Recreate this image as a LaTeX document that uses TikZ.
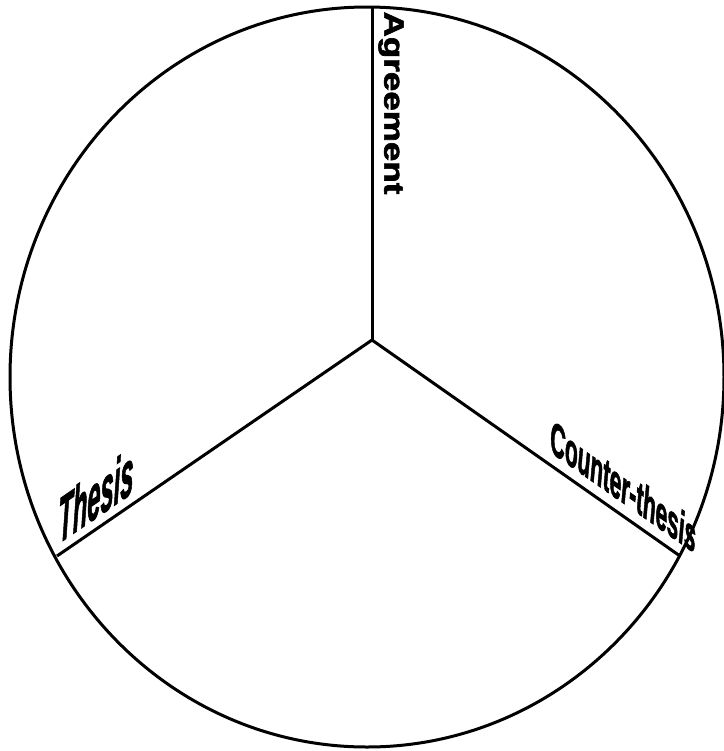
\documentclass[tikz,border=0pt]{standalone}
\usepackage{fontspec}
\newfontfamily\labelfont{Liberation Sans}[FakeBold=2]
\begin{document}
\begin{tikzpicture}[x=0.5pt,y=-0.5pt,line width=1.5pt]
    \useasboundingbox (0,0) rectangle (724,751);
    \draw (367,377) ellipse [x radius=178.5pt, y radius=185pt];
    \coordinate (hub) at (372,340);
    \coordinate (top) at (372,7);
    \coordinate (left) at (57,556);
    \coordinate (right) at (680,556);
    \draw (hub) -- (top);
    \draw (hub) -- (left);
    \draw (hub) -- (right);
    \node[rotate=-90, inner sep=0pt] (agree) at (391,103)
        {\scalebox{1.25}[1]{\labelfont\bfseries\fontsize{14}{15}\selectfont Agreement}};
    \node[anchor=base, yslant=0.686, transform shape, inner sep=0pt] (thesis) at (96,518)
        {\scalebox{0.37}[1]{\labelfont\bfseries\itshape\fontsize{32}{34}\selectfont Thesis}};
    \node[anchor=base, yslant=-0.70, transform shape, inner sep=0pt] (counter) at (623,503)
        {\scalebox{0.43}[1]{\labelfont\bfseries\itshape\fontsize{24}{26}\selectfont Counter-thesis}};
\end{tikzpicture}
\end{document}
